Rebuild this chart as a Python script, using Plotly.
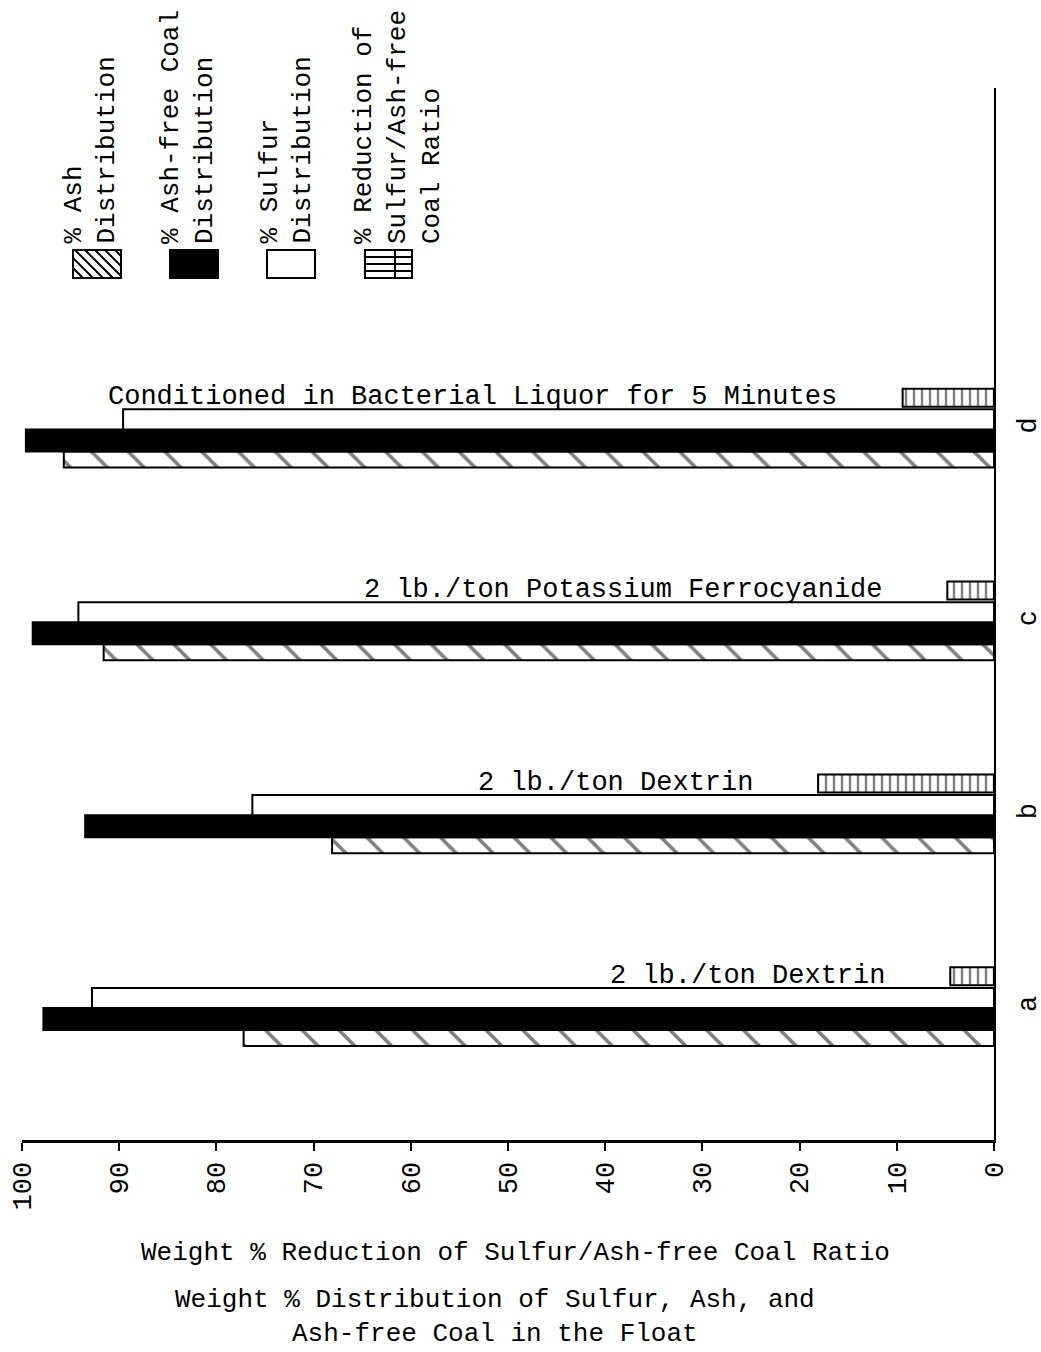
import plotly.graph_objects as go

# ---- data ----
categories = ["a", "b", "c", "d"]
ash_distribution = [77.2, 68.1, 91.6, 95.7]
ashfree_coal_distribution = [97.8, 93.5, 98.9, 99.6]
sulfur_distribution = [92.8, 76.3, 94.2, 89.6]
reduction_ratio = [4.5, 18.1, 4.8, 9.4]
condition_labels = [
    "2 lb./ton Dextrin",
    "2 lb./ton Dextrin",
    "2 lb./ton Potassium Ferrocyanide",
    "Conditioned in Bacterial Liquor for 5 Minutes",
]
x_ticks = list(range(0, 101, 10))

FONT = "Liberation Mono, Courier New, monospace"
W, H = 1041, 1352
L, R, T, B = 22, 47, 88, 212

ypos = list(range(len(categories)))

fig = go.Figure()
line = dict(color="black", width=2)

fig.add_trace(go.Bar(
    y=ypos, x=ash_distribution, orientation="h", width=0.083, offset=-0.197,
    marker=dict(color="white", line=line,
                pattern=dict(shape="\\", fgcolor="black", bgcolor="white", size=26, solidity=0.14)),
    name="% Ash Distribution"))
fig.add_trace(go.Bar(
    y=ypos, x=ashfree_coal_distribution, orientation="h", width=0.114, offset=-0.114,
    marker=dict(color="black", line=line), name="% Ash-free Coal Distribution"))
fig.add_trace(go.Bar(
    y=ypos, x=sulfur_distribution, orientation="h", width=0.104, offset=0.0,
    marker=dict(color="white", line=line), name="% Sulfur Distribution"))
fig.add_trace(go.Bar(
    y=ypos, x=reduction_ratio, orientation="h", width=0.093, offset=0.118,
    marker=dict(color="white", line=line,
                pattern=dict(shape="|", fgcolor="black", bgcolor="white", size=8, solidity=0.3)),
    name="% Reduction of Sulfur/Ash-free Coal Ratio"))

annotations = []
# condition labels above sulfur bars
for i, (lab, red) in enumerate(zip(condition_labels, reduction_ratio)):
    annotations.append(dict(
        x=red + 6.5, y=i + 0.104, xref="x", yref="y", text=lab, showarrow=False,
        xanchor="right", yanchor="bottom", yshift=-5,
        font=dict(family=FONT, size=27, color="black")))

def px(xp):
    return (xp - L) / (W - L - R)

def py(yp):
    return (H - B - yp) / (H - T - B)

# legend (drawn manually, rotated text)
legend_items = [
    ("% Ash<br>Distribution", 73, 121, 90),
    ("% Ash-free Coal<br>Distribution", 170, 218, 188),
    ("% Sulfur<br>Distribution", 267, 315, 286),
    ("% Reduction of<br>Sulfur/Ash-free<br>Coal Ratio", 365, 412, 398),
]
shapes = []
sy0, sy1 = 250, 278
for k, (txt, x0, x1, xc) in enumerate(legend_items):
    annotations.append(dict(
        x=px(xc), y=py(246), xref="paper", yref="paper", text=txt, showarrow=False,
        textangle=-90, xanchor="center", yanchor="bottom", align="left",
        font=dict(family=FONT, size=26, color="black")))
    fill = "black" if k == 1 else "white"
    shapes.append(dict(type="rect", xref="paper", yref="paper",
                       x0=px(x0), x1=px(x1), y0=py(sy1), y1=py(sy0),
                       line=dict(color="black", width=2), fillcolor=fill, layer="above"))
    if k == 0:
        # diagonal hatch "\\"
        path = ""
        for s in range(-28, 48, 10):
            xa, ya = x0 + s, sy0
            xb, yb = x0 + s + 28, sy1
            if xa < x0:
                ya = sy0 + (x0 - xa)
                xa = x0
            if xb > x1:
                yb = sy1 - (xb - x1)
                xb = x1
            if xa < xb:
                path += f"M {px(xa)} {py(ya)} L {px(xb)} {py(yb)} "
        shapes.append(dict(type="path", xref="paper", yref="paper", path=path,
                           line=dict(color="black", width=2), layer="above"))
    if k == 3:
        path = ""
        for yy in (257, 264, 271):
            path += f"M {px(x0)} {py(yy)} L {px(x1)} {py(yy)} "
        path += f"M {px(395)} {py(sy0)} L {px(395)} {py(sy1)} "
        shapes.append(dict(type="path", xref="paper", yref="paper", path=path,
                           line=dict(color="black", width=2), layer="above"))

# axis titles
annotations.append(dict(
    x=px(515), y=py(1253), xref="paper", yref="paper",
    text="Weight % Reduction of Sulfur/Ash-free Coal Ratio", showarrow=False,
    xanchor="center", yanchor="middle", font=dict(family=FONT, size=26, color="black")))
annotations.append(dict(
    x=px(495), y=py(1317), xref="paper", yref="paper",
    text="Weight % Distribution of Sulfur, Ash, and<br>Ash-free Coal in the Float",
    showarrow=False, xanchor="center", yanchor="middle",
    font=dict(family=FONT, size=26, color="black")))

fig.update_layout(
    width=W, height=H,
    margin=dict(l=L, r=R, t=T, b=B),
    paper_bgcolor="white", plot_bgcolor="white",
    showlegend=False, barmode="overlay",
    annotations=annotations, shapes=shapes,
    xaxis=dict(range=[100, 0], tickvals=x_ticks, ticktext=[str(v) for v in x_ticks],
               ticks="outside", ticklen=8, tickwidth=2, tickcolor="black",
               showline=True, linecolor="black", linewidth=3,
               showgrid=False, zeroline=False, tickangle=-90, automargin=False,
               tickfont=dict(family=FONT, size=27, color="black")),
    yaxis=dict(range=[-0.684, 4.77], tickvals=ypos, ticktext=categories,
               side="right", showline=True, linecolor="black", linewidth=2,
               showgrid=False, zeroline=False, ticks="", tickangle=-90,
               ticklabelstandoff=8, automargin=False,
               tickfont=dict(family=FONT, size=27, color="black")),
)

fig.write_html("out.html", config={"displayModeBar": False},
               post_script="document.body.style.margin='0';document.body.style.overflow='hidden';")
